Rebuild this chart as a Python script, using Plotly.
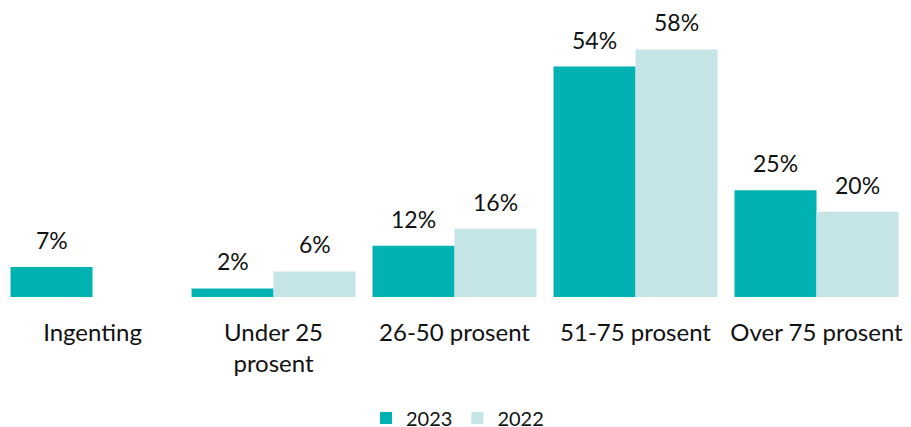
import plotly.graph_objects as go

categories = ["Ingenting", "Under 25<br>prosent", "26-50 prosent", "51-75 prosent", "Over 75 prosent"]
values_2023 = [7, 2, 12, 54, 25]
values_2022 = [None, 6, 16, 58, 20]
series_names = ["2023", "2022"]
colors = ["#00B2B2", "#C4E4E5"]

FONT = "Lato, Open Sans, sans-serif"

fig = go.Figure()
for name, vals, col in zip(series_names, [values_2023, values_2022], colors):
    fig.add_trace(go.Bar(x=categories, y=vals, name=name, marker=dict(color=col, line=dict(width=0))))

for vals, shift in [(values_2023, -41), (values_2022, 41)]:
    for c, v in zip(categories, vals):
        if v is None:
            continue
        fig.add_annotation(x=c, y=v, text=f"{v}%", showarrow=False, xshift=shift,
                           yanchor="bottom", yshift=11,
                           font=dict(family=FONT, size=23, color="#111111"))

# page body has an 8px default margin; figure is sized to compensate
fig.update_layout(
    width=903, height=419,
    margin=dict(l=0, r=4, t=12, b=130, autoexpand=False),
    plot_bgcolor="white", paper_bgcolor="white",
    barmode="group", bargap=0.094, bargroupgap=0,
    font=dict(family=FONT, size=24, color="#111111"),
    showlegend=True,
    legend=dict(orientation="h", x=0.5, xanchor="center", yref="paper", y=-0.437, yanchor="middle",
                font=dict(size=20), traceorder="normal"),
    xaxis=dict(showline=False, showgrid=False, ticks="outside", ticklen=14, tickcolor="rgba(0,0,0,0)",
               tickfont=dict(size=24), automargin=False, range=[-0.467, 4.5]),
    yaxis=dict(visible=False, range=[0, 64.9], automargin=False),
)

fig.write_html("out.html")
